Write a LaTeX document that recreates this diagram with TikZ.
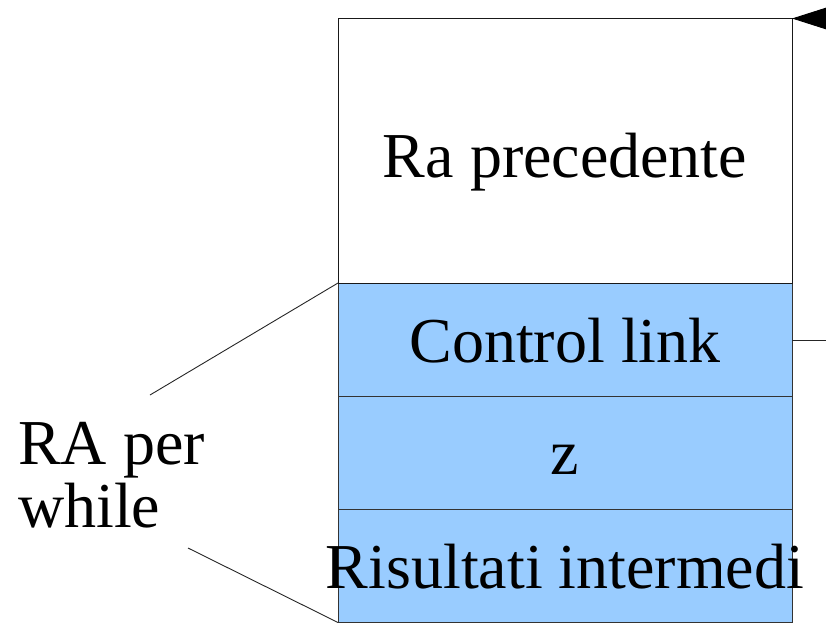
\documentclass[tikz,border=0pt]{standalone}
\usepackage{fontspec}
\setmainfont{Liberation Serif}
\usetikzlibrary{arrows.meta}
\definecolor{rablue}{HTML}{99CCFF}
\definecolor{edge}{HTML}{333333}
\tikzset{
  cell/.style={draw=edge, line width=1pt},
  bluecell/.style={cell, fill=rablue},
  big/.style={font=\fontsize{64}{63}\selectfont, inner sep=0pt, anchor=base},
  thin/.style={draw=black!85, line width=0.9pt}
}
\begin{document}
\begin{tikzpicture}[x=1pt,y=-1pt]
\useasboundingbox (0,0) rectangle (826,623);
\clip (0,0) rectangle (826,623);
% cells
\draw[bluecell] (338,283) rectangle (792,396);
\draw[bluecell] (338,396) rectangle (792,509);
\draw[bluecell] (338,509) rectangle (792,622.5);
\draw[cell, draw=black!90] (338,18.5) rectangle (792,283);
\coordinate (topNE) at (792,18.5);
\coordinate (clE) at (792,340);
\coordinate (clTL) at (338,283);
\coordinate (risBL) at (338,622.5);
% texts
\node[big] (rap) at (565,177) {Ra precedente};
\node[big] (cl) at (565,362) {Control link};
\node[big] (z) at (565,474) {z};
\node[big] (ris) at (565,588) {Risultati intermedi};
\node[big, anchor=base west] (ra1) at (18,464) {RA per};
\node[big, anchor=base west] (ra2) at (18,527) {while};
% connectors
\coordinate (inR) at (900,18.5);
\coordinate (outR) at (830,340);
\coordinate (l1) at (150,395);
\coordinate (l2) at (188,548);
\draw[thin] (clE) -- (outR);
\draw[line width=1pt, -{Triangle[length=38pt,width=24pt]}] (inR) -- (topNE);
\draw[thin] (l1) -- (clTL);
\draw[thin] (l2) -- (risBL);
\end{tikzpicture}
\end{document}
